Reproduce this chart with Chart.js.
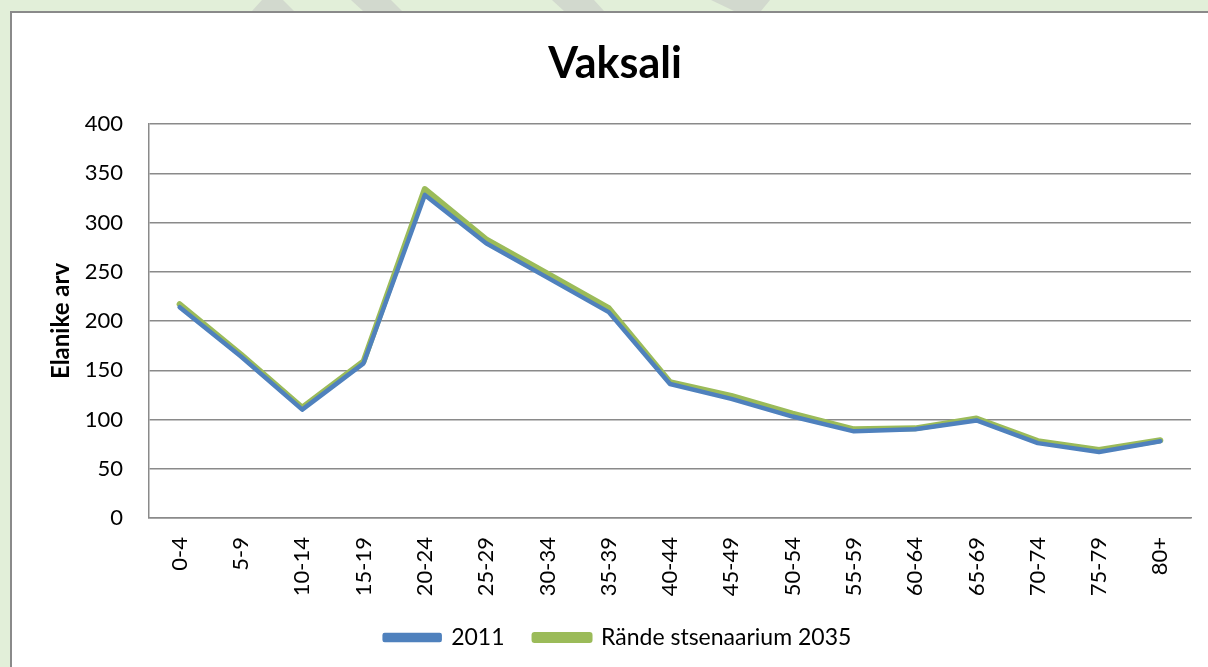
<!DOCTYPE html>
<html>
<head>
<meta charset="utf-8">
<script src="https://cdn.jsdelivr.net/npm/chart.js@4/dist/chart.umd.min.js"></script>
<style>
  html, body { margin: 0; padding: 0; background: #e2efd9; }
  canvas { display: block; }
</style>
</head>
<body>
<canvas id="ageChart" width="1208" height="667"></canvas>
<script>
const ageGroups = ["0-4", "5-9", "10-14", "15-19", "20-24", "25-29", "30-34", "35-39", "40-44",
    "45-49", "50-54", "55-59", "60-64", "65-69", "70-74", "75-79", "80+"];
const pop2011 = [214, 164, 110, 157, 328, 279, 244, 209, 136, 121, 103, 88, 90, 99, 76, 67, 78];
const pop2035 = [217, 166, 112, 159, 334, 283, 248, 213, 138, 124, 106, 90, 91, 101, 78, 69, 79];
const chartTitle = "Vaksali";
const yTitle = "Elanike arv";

const fontName = "Lato, 'Open Sans', sans-serif";

// page frame: green margin, faint watermark bits, white box with grey border
const framePlugin = {
    id: "frame",
    beforeDraw(chart) {
        const ctx = chart.ctx;
        ctx.save();
        ctx.fillStyle = "#e2efd9";
        ctx.fillRect(0, 0, chart.width, chart.height);
        ctx.fillStyle = "#d2d9ce";
        const bits = [
            [[262, 0], [283, 0], [294, 11], [252, 11]],
            [[351, 0], [391, 0], [402, 11], [363, 11]],
            [[552, 0], [594, 0], [604, 11], [564, 11]],
            [[711, 0], [770, 0], [761, 11], [734, 11]]
        ];
        bits.forEach(p => {
            ctx.beginPath();
            ctx.moveTo(p[0][0], p[0][1]);
            for (let i = 1; i < p.length; i++) ctx.lineTo(p[i][0], p[i][1]);
            ctx.closePath();
            ctx.fill();
        });
        ctx.fillStyle = "#ffffff";
        ctx.fillRect(10, 11, chart.width, chart.height);
        ctx.strokeStyle = "#8a8a8a";
        ctx.lineWidth = 2;
        ctx.beginPath();
        ctx.moveTo(11, chart.height + 5);
        ctx.lineTo(11, 12);
        ctx.lineTo(chart.width + 5, 12);
        ctx.stroke();

        ctx.fillStyle = "#000";
        ctx.font = "bold 43px " + fontName;
        ctx.textAlign = "center";
        ctx.textBaseline = "alphabetic";
        ctx.fillText(chartTitle, 615, 78);
        ctx.restore();
    }
};

const ageChart = new Chart(document.getElementById("ageChart").getContext("2d"), {
    type: "line",
    data: {
        labels: ageGroups,
        datasets: [{
            label: "2011",
            data: pop2011,
            borderColor: "#4f81bd",
            backgroundColor: "#4f81bd",
            borderWidth: 4.5,
            pointRadius: 0,
            tension: 0,
            borderJoinStyle: "round",
            borderCapStyle: "round"
        }, {
            label: "Rände stsenaarium 2035",
            data: pop2035,
            borderColor: "#9bbb59",
            backgroundColor: "#9bbb59",
            borderWidth: 6,
            pointRadius: 0,
            tension: 0,
            borderJoinStyle: "round",
            borderCapStyle: "round"
        }]
    },
    options: {
        responsive: false,
        animation: false,
        layout: {
            padding: { top: 124, left: 45, right: 17, bottom: 8 }
        },
        plugins: {
            title: { display: false },
            tooltip: { enabled: false },
            legend: {
                position: "bottom",
                labels: {
                    boxWidth: 55,
                    boxHeight: 5,
                    padding: 30,
                    color: "#000",
                    font: { family: fontName, size: 23 }
                }
            }
        },
        scales: {
            x: {
                offset: true,
                grid: { display: false, drawTicks: false },
                border: { display: true, color: "#8a8a8a", width: 1.5 },
                ticks: {
                    color: "#000",
                    font: { family: fontName, size: 22 },
                    minRotation: 90,
                    maxRotation: 90,
                    autoSkip: false,
                    padding: 19
                },
                afterFit(scale) { scale.height = 78; }
            },
            y: {
                min: 0,
                max: 400,
                grid: { color: "#8a8a8a", lineWidth: 1.5, drawTicks: false },
                border: { display: true, color: "#8a8a8a", width: 1.5 },
                ticks: {
                    stepSize: 50,
                    color: "#000",
                    font: { family: fontName, size: 22 },
                    padding: 26
                },
                title: {
                    display: true,
                    text: yTitle,
                    color: "#000",
                    font: { family: fontName, size: 24, weight: "bold" },
                    padding: { top: 2, bottom: 0 }
                },
                afterFit(scale) { scale.width = 104; }
            }
        }
    },
    plugins: [framePlugin]
});
</script>
</body>
</html>
